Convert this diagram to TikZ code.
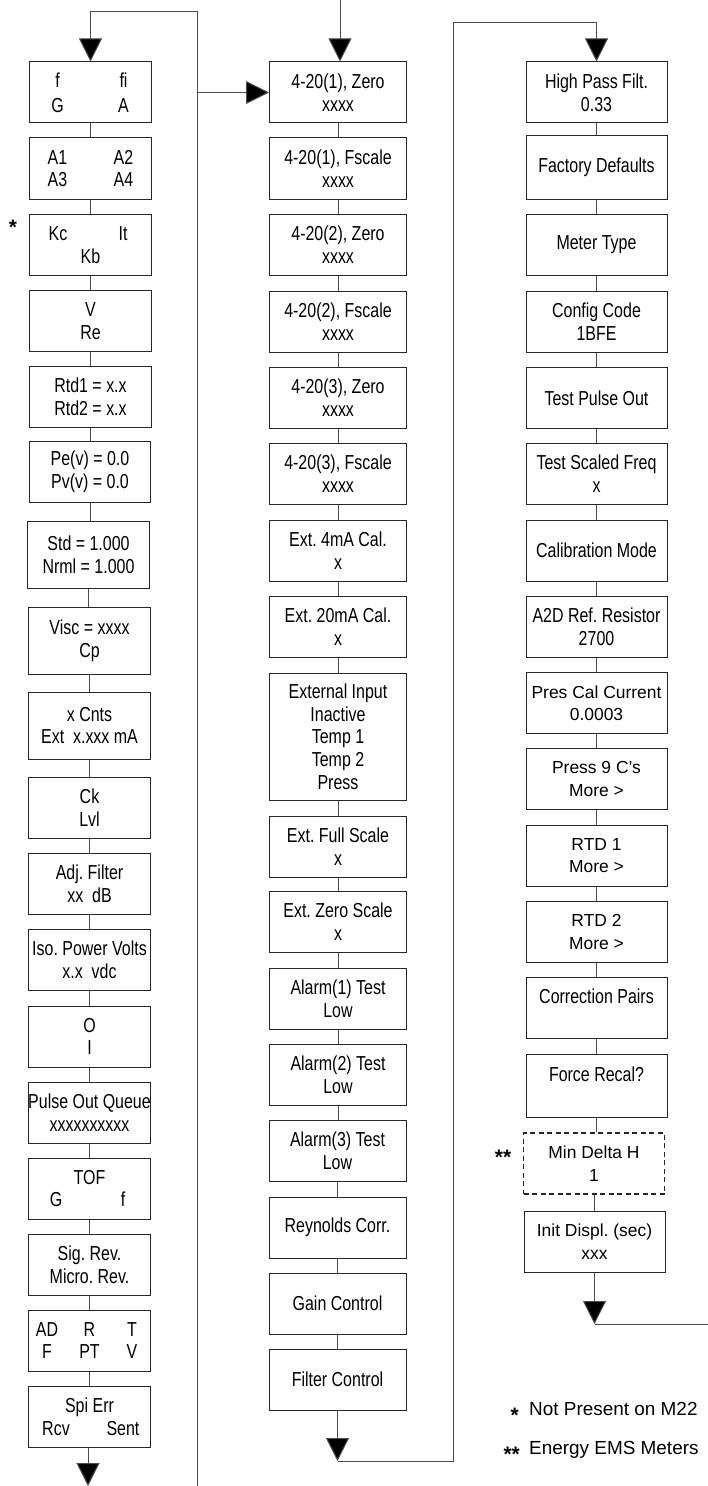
\documentclass[tikz,border=0pt]{standalone}
\usepackage{fontspec}
\setmainfont[FakeStretch=0.79]{Liberation Sans}
\newfontfamily\widefont{Liberation Sans}
\usetikzlibrary{arrows.meta}
\frenchspacing
\newcommand\pairtxt[3][66bp]{\makebox[#1]{\makebox[0pt]{#2}\hfill\makebox[0pt]{#3}}}
\newcommand\tripletxt[4][85bp]{\makebox[#1]{\makebox[0pt]{#2}\hfill\makebox[0pt]{#3}\hfill\makebox[0pt]{#4}}}
\tikzset{
  box/.style={draw=black!85, line width=1bp, minimum height=61bp, inner sep=0pt, align=center,
    font=\frenchspacing\fontsize{20.3}{22.8}\selectfont},
  cA/.style={box, minimum width=121bp},
  cB/.style={box, minimum width=137bp},
  cC/.style={box, minimum width=141bp},
  wide/.style={font=\widefont\frenchspacing\fontsize{17.5}{22.5}\selectfont},
  link/.style={draw=black!70, line width=1bp},
  arr/.style={link, -{Triangle[width=23bp,length=23bp]}, arrows={[fill=black]}},
  note/.style={font=\widefont\fontsize{19}{22}\selectfont, inner sep=0pt},
  starnote/.style={font=\widefont\bfseries\fontsize{21}{22}\selectfont, inner sep=0pt},
}
\begin{document}
\begin{tikzpicture}[x=1bp,y=-1bp]
\fill[white] (0,0) rectangle (708,1486);
\useasboundingbox (0,0) rectangle (708,1486);
% ---------- column 1 ----------
\node[cA] (a1) at (90.5,92.5) {\pairtxt{f}{fi}\\[2pt]\pairtxt{G}{A}};
\node[cA] (a2) at (90.5,168.5) {\pairtxt{A1}{A2}\\\pairtxt{A3}{A4}};
\node[cA] (a3) at (90.5,245) {\pairtxt[65bp]{Kc}{It}\\Kb};
\node[cA] (a4) at (90.5,321) {V\\Re};
\node[cA] (a5) at (90.5,396.5) {Rtd1 = x.x\\Rtd2 = x.x};
\node[cA] (a6) at (90,472) {Pe(v) = 0.0\\Pv(v) = 0.0};
\node[cA, minimum height=67bp] (a7) at (88.5,554.5) {Std = 1.000\\Nrml = 1.000};
\node[cA, minimum height=67bp] (a8) at (89.5,640.5) {Visc = xxxx\\Cp};
\node[cA, minimum height=67bp] (a9) at (89.5,725.5) {x Cnts\\Ext\ \ x.xxx mA};
\node[cA] (a10) at (89.5,807.5) {Ck\\Lvl};
\node[cA] (a11) at (89.5,883.5) {Adj. Filter\\xx\ \ dB};
\node[cA] (a12) at (89.5,960) {Iso. Power Volts\\x.x\ \ vdc};
\node[cA] (a13) at (89.5,1036.5) {O\\I};
\node[cA] (a14) at (89.5,1112.5) {Pulse Out Queue\\xxxxxxxxxx};
\node[cA] (a15) at (89.5,1188.5) {TOF\\\pairtxt[67bp]{G}{f}};
\node[cA] (a16) at (89.5,1264.5) {Sig. Rev.\\Micro. Rev.};
\node[cA] (a17) at (89.5,1340.5) {\tripletxt{AD}{R}{T}\\\tripletxt{F}{PT}{V}};
\node[cA] (a18) at (89.5,1416.5) {Spi Err\\\pairtxt[67bp]{Rcv}{Sent}};
\node[starnote] (star1) at (13,227) {*};
% ---------- column 2 ----------
\node[cB] (b1) at (338,92.5) {4-20(1), Zero\\xxxx};
\node[cB] (b2) at (338,168.5) {4-20(1), Fscale\\xxxx};
\node[cB] (b3) at (338,245) {4-20(2), Zero\\xxxx};
\node[cB] (b4) at (338,322) {4-20(2), Fscale\\xxxx};
\node[cB] (b5) at (338,398) {4-20(3), Zero\\xxxx};
\node[cB] (b6) at (338,474) {4-20(3), Fscale\\xxxx};
\node[cB] (b7) at (338,551) {Ext. 4mA Cal.\\x};
\node[cB] (b8) at (338,627) {Ext. 20mA Cal.\\x};
\node[cB, minimum height=127bp] (b9) at (338,736.5) {External Input\\Inactive\\Temp 1\\Temp 2\\Press};
\node[cB] (b10) at (338,846.5) {Ext. Full Scale\\x};
\node[cB] (b11) at (338,922) {Ext. Zero Scale\\x};
\node[cB] (b12) at (338,998.5) {Alarm(1) Test\\Low};
\node[cB] (b13) at (338,1074.5) {Alarm(2) Test\\Low};
\node[cB] (b14) at (337.5,1151) {Alarm(3) Test\\Low};
\node[cB] (b15) at (337.5,1227.5) {Reynolds Corr.};
\node[cB] (b16) at (337.5,1303.5) {Gain Control};
\node[cB] (b17) at (337.5,1379.5) {Filter Control};
% ---------- column 3 ----------
\node[cC] (c1) at (596.5,92.5) {High Pass Filt.\\0.33};
\node[cC, minimum height=63bp] (c2) at (596.5,167.5) {Factory Defaults};
\node[cC] (c3) at (596.5,245) {Meter Type};
\node[cC] (c4) at (596.5,321.5) {Config Code\\1BFE};
\node[cC] (c5) at (596.5,398) {Test Pulse Out};
\node[cC] (c6) at (596.5,474) {Test Scaled Freq\\x};
\node[cC] (c7) at (596.5,550.5) {Calibration Mode};
\node[cC] (c8) at (596.5,627) {A2D Ref. Resistor\\2700};
\node[cC, wide] (c9) at (596.5,703) {Pres Cal Current\\0.0003};
\node[cC, wide] (c10) at (596.5,779) {Press 9 C’s\\More >};
\node[cC, wide] (c11) at (596.5,855.5) {RTD 1\\More >};
\node[cC, wide] (c12) at (596.5,932) {RTD 2\\More >};
\node[cC] (c13) at (596.5,1008) {Correction Pairs\\\mbox{}};
\node[cC, minimum height=63bp] (c14) at (596.5,1085.5) {Force Recal?\\\mbox{}};
\node[cC, wide, dashed, dash pattern=on 5bp off 3.5bp, line width=1.5bp] (c15) at (594,1163.5) {Min Delta H\\1};
\node[cC, wide] (c16) at (594.5,1241.5) {Init Displ. (sec)\\xxx};
\node[starnote] (star2) at (503,1157) {**};
% ---------- legend ----------
\node[note, anchor=base west] (leg1) at (529,1415) {Not Present on M22};
\node[starnote, anchor=base east] (leg1s) at (519,1422) {*};
\node[note, anchor=base west] (leg2) at (529,1454) {Energy EMS Meters};
\node[starnote, anchor=base east] (leg2s) at (520,1461) {**};
% ---------- links between boxes ----------
\foreach \i [evaluate=\i as \j using int(\i+1)] in {1,...,17}
  \draw[link] (a\i.south) -- (a\i.south |- a\j.north);
\foreach \i [evaluate=\i as \j using int(\i+1)] in {1,...,16}
  \draw[link] (b\i.south) -- (b\i.south |- b\j.north);
\foreach \i [evaluate=\i as \j using int(\i+1)] in {1,...,15}
  \draw[link] (c\i.south) -- (c\i.south |- c\j.north);
% ---------- flow connectors ----------
\coordinate (railAtop) at (197,12);
\coordinate (railAbot) at (197,1486);
\coordinate (railAbr) at (197,92.5);
\draw[arr] (railAbot) -- (railAtop) -| (a1.north);
\draw[arr] (railAbr) -- (b1.west);
\coordinate (topB) at (340,0);
\draw[arr] (topB) -- (topB |- b1.north);
\coordinate (exitA) at (88,1486);
\draw[arr] (a18.south -| exitA) -- (exitA);
\coordinate (railBbot) at (453,1461);
\coordinate (railBtop) at (453,23);
\coordinate (tipB) at (338,1461);
\draw[arr] (b17.south) -- (b17.south |- tipB);
\draw[arr] (b17.south |- tipB) -- (railBbot) -- (railBtop) -| (c1.north);
\coordinate (exitC) at (708,1324);
\draw[arr] (c16.south) -- (c16.south |- exitC);
\draw[link] (c16.south |- exitC) -- (exitC);
\end{tikzpicture}
\end{document}
